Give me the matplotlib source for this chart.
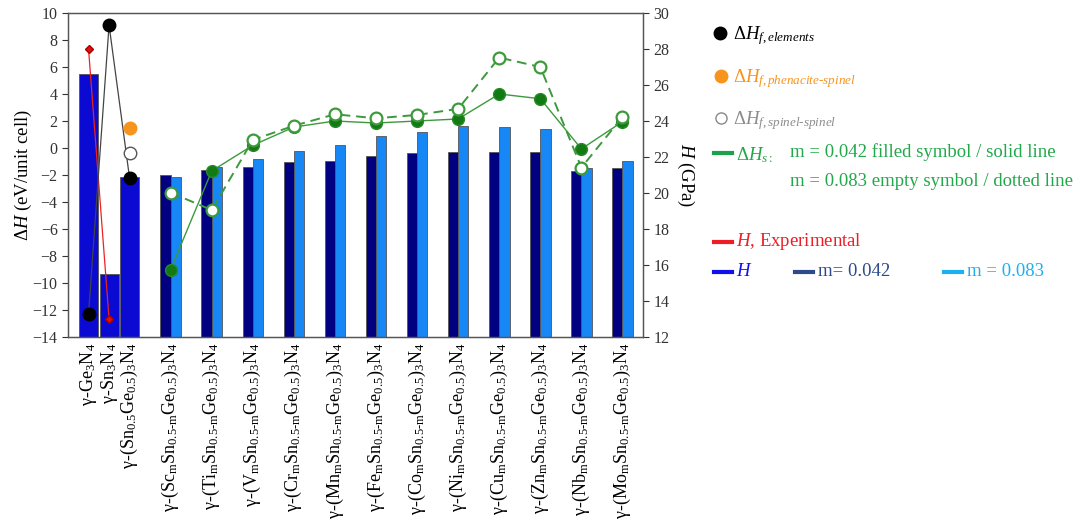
import matplotlib
matplotlib.use("Agg")
import matplotlib.pyplot as plt
from matplotlib.lines import Line2D
import numpy as np

plt.rcParams['font.family'] = ['Liberation Serif', 'DejaVu Serif']
plt.rcParams['mathtext.fontset'] = 'custom'
plt.rcParams['mathtext.rm'] = 'Liberation Serif'
plt.rcParams['mathtext.it'] = 'Liberation Serif:italic'
plt.rcParams['mathtext.bf'] = 'Liberation Serif:bold'

# ---------------- data ----------------
single_labels = [r"γ-Ge$_3$N$_4$", r"γ-Sn$_3$N$_4$",
                 r"γ-(Sn$_{0.5}$Ge$_{0.5}$)$_3$N$_4$"]
single_H = [26.6, 15.5, 20.9]                 # GPa
dHf_elements = [-12.3, 9.1, -2.25]            # eV/unit cell
dHf_phenacite_spinel = [1.45]                 # for Sn0.5Ge0.5
dHf_spinel_spinel = [-0.35]
H_experimental = [28.0, 13.0]                 # Ge3N4, Sn3N4

metals = ["Sc", "Ti", "V", "Cr", "Mn", "Fe", "Co", "Ni", "Cu", "Zn", "Nb", "Mo"]
H_m042 = [21.0, 21.3, 21.45, 21.7, 21.8, 22.05, 22.2, 22.3, 22.3, 22.3, 21.2, 21.4]
H_m083 = [20.9, 21.45, 21.9, 22.35, 22.65, 23.15, 23.4, 23.7, 23.65, 23.55, 21.4, 21.8]
dHs_m042 = [-9.0, -1.7, 0.2, 1.55, 2.0, 1.85, 2.0, 2.15, 4.0, 3.65, -0.07, 1.95]
dHs_m083 = [-3.3, -4.6, 0.6, 1.65, 2.5, 2.2, 2.45, 2.9, 6.7, 6.0, -1.45, 2.3]

group_labels = [r"γ-(%s$_\mathrm{m}$Sn$_{0.5\text{-}\mathrm{m}}$Ge$_{0.5}$)$_3$N$_4$" % m
                for m in metals]

# ---------------- figure ----------------
W, Hpx = 1083, 527
fig = plt.figure(figsize=(W / 100, Hpx / 100), dpi=100)
ax = fig.add_axes([68 / W, 1 - 337 / Hpx, (643 - 68) / W, (337 - 13) / Hpx])
ax2 = ax.twinx()

x_single = np.array([-2.0, -1.5, -1.0])
x_grp = np.arange(len(metals), dtype=float)

edge = "#555555"
ax.bar(x_single, single_H, width=0.46, color="#0a0ad2", edgecolor=edge, linewidth=0.6, zorder=2)
ax.bar(x_grp - 0.125, H_m042, width=0.25, color="#000080", edgecolor=edge, linewidth=0.6, zorder=2)
ax.bar(x_grp + 0.125, H_m083, width=0.25, color="#1687f5", edgecolor=edge, linewidth=0.6, zorder=2)
ax.plot(x_single[:2], H_experimental, color="#ee2222", lw=0.9, marker="D", ms=4.5,
        mfc="#dd1111", mec="#aa0000", zorder=4)

ax.set_ylim(12, 30)
ax.set_yticks(np.arange(12, 31, 2))
ax.yaxis.tick_right()
ax.yaxis.set_label_position("right")
ax.set_ylabel(r"$\mathit{H}$ (GPa)", rotation=270, fontsize=13.5, labelpad=19)
ax.set_xlim(-2.5, 11.5)
ax.set_xticks(list(x_single) + list(x_grp))
ax.set_xticklabels(single_labels + group_labels, rotation=90, fontsize=13)

# delta H axis (left)
ax2.yaxis.tick_left()
ax2.yaxis.set_label_position("left")
ax2.set_ylim(-14, 10)
ax2.set_yticks(np.arange(-14, 11, 2))
ax2.set_ylabel(r"$\mathit{ΔH}$ (eV/unit cell)", fontsize=13.5, labelpad=-1)

green_line = "#3c9a3c"
green_fill = "#127a12"
ax2.plot(x_grp, dHs_m042, color=green_line, lw=1.0, marker="o", ms=8.5,
         mfc=green_fill, mec="#2a8a2a", zorder=5)
ax2.plot(x_grp, dHs_m083, color=green_line, lw=1.4, ls=(0, (5, 3)), marker="o", ms=8.5,
         mfc="white", mec=green_line, mew=1.6, zorder=6)
ax2.plot(x_single, dHf_elements, color="#444444", lw=0.9, marker="o", ms=9,
         mfc="black", mec="black", zorder=5)
ax2.plot([x_single[2]], dHf_phenacite_spinel, ls="none", marker="o", ms=9,
         mfc="#f7941d", mec="#f7941d", zorder=5)
ax2.plot([x_single[2]], dHf_spinel_spinel, ls="none", marker="o", ms=9,
         mfc="white", mec="#555555", mew=1.0, zorder=5)

for a in (ax, ax2):
    for s in a.spines.values():
        s.set_color("#555555")
        s.set_linewidth(0.9)
    a.tick_params(axis="y", labelsize=11.5, colors="#333333", length=4, width=0.8)
ax.tick_params(axis="x", length=0, pad=4)

# ---------------- legend (manual) ----------------
def fx(px):
    return px / W

def fy(py):
    return 1 - py / Hpx

fs = 13.5
fig.add_artist(Line2D([fx(720)], [fy(33)], marker="o", ms=9, color="black", ls="none"))
fig.text(fx(733), fy(36), r"$\mathit{ΔH}_{\mathit{f,elements}}$", color="black", fontsize=fs, va="center")
fig.add_artist(Line2D([fx(721)], [fy(76)], marker="o", ms=9, color="#f7941d", ls="none"))
fig.text(fx(733), fy(79), r"$\mathit{ΔH}_{\mathit{f,phenacite\text{-}spinel}}$", color="#f7941d", fontsize=fs, va="center")
fig.add_artist(Line2D([fx(721)], [fy(118)], marker="o", ms=8, mfc="white", mec="#888888", ls="none"))
fig.text(fx(733), fy(121), r"$\mathit{ΔH}_{\mathit{f,spinel\text{-}spinel}}$", color="#8c8c8c", fontsize=fs, va="center")

gtxt = "#22a84a"
fig.add_artist(Line2D([fx(714), fx(732)], [fy(153), fy(153)], color="#1aa34a", lw=3))
fig.text(fx(736), fy(155), r"$\mathit{ΔH}_{\mathit{s:}}$", color=gtxt, fontsize=fs, va="center")
fig.text(fx(790), fy(152), "m = 0.042 filled symbol / solid line", color=gtxt, fontsize=fs, va="center")
fig.text(fx(790), fy(182), "m = 0.083 empty symbol / dotted line", color=gtxt, fontsize=fs, va="center")

fig.add_artist(Line2D([fx(714), fx(732)], [fy(242), fy(242)], color="#ee1c24", lw=3))
fig.text(fx(736), fy(241), r"$\mathit{H}$, Experimental", color="#ee1c24", fontsize=fs, va="center")

fig.add_artist(Line2D([fx(714), fx(732)], [fy(272), fy(272)], color="#1010ee", lw=3))
fig.text(fx(736), fy(271), r"$\mathit{H}$", color="#1010ee", fontsize=fs, va="center")
fig.add_artist(Line2D([fx(795), fx(813)], [fy(272), fy(272)], color="#2e4a8c", lw=3))
fig.text(fx(818), fy(271), "m= 0.042", color="#2e4a8c", fontsize=fs, va="center")
fig.add_artist(Line2D([fx(944), fx(962)], [fy(272), fy(272)], color="#1cb0ee", lw=3))
fig.text(fx(967), fy(271), "m = 0.083", color="#1cb0ee", fontsize=fs, va="center")

fig.savefig("out.png", dpi=100)
